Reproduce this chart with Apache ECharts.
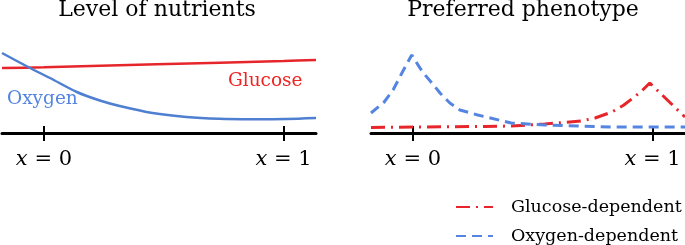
<!DOCTYPE html>
<html>
<head>
<meta charset="utf-8">
<script src="https://cdn.jsdelivr.net/npm/echarts@6/dist/echarts.min.js"></script>
<style>
  html, body { margin: 0; padding: 0; background: #fff; }
  #chart { width: 685px; height: 245px; }
</style>
</head>
<body>
<div id="chart"></div>
<script>
// 左图：营养水平
const glucoseLevel = [[-0.175, 65], [0, 65.7], [0.47, 68.7], [1, 72], [1.135, 73]];
const oxygenLevel = [
  [-0.175, 80], [-0.058, 65], [0.025, 55], [0.137, 41], [0.233, 32.5], [0.316, 27],
  [0.453, 20], [0.594, 16], [0.73, 14.2], [0.869, 13.8], [1.01, 14], [1.135, 15]
];
// 右图：偏好表型
const glucoseDep = [
  [-0.175, 5.5], [0, 6], [0.3, 6.5], [0.41, 7], [0.55, 9], [0.7, 12], [0.76, 15],
  [0.83, 21], [0.88, 28], [0.95, 41], [0.988, 50], [1.07, 31], [1.1, 24], [1.135, 16]
];
const oxygenDep = [
  [-0.175, 20], [-0.12, 31], [-0.083, 43], [-0.046, 60], [-0.005, 78], [0.04, 61],
  [0.079, 50], [0.113, 40], [0.154, 30], [0.196, 23], [0.27, 18], [0.41, 10],
  [0.55, 8], [0.83, 6], [1.135, 6]
];
const tickValues = [0, 1];
const titles = ['Level of nutrients', 'Preferred phenotype'];
const legendNames = ['Glucose-dependent', 'Oxygen-dependent'];

const RED = '#e6262b';
const BLUE = '#4f7fd0';
const LIGHT_BLUE = '#5585e0';
const FONT = 'DejaVu Serif';

const chart = echarts.init(document.getElementById('chart'));

// 每个面板两条x轴：一条画轴线+向下刻度+标签，一条画向上刻度
function makeXAxes(gridIndex) {
  const base = {
    type: 'value', gridIndex, min: -0.175, max: 1.135, position: 'bottom',
    splitLine: { show: false }
  };
  return [
    Object.assign({}, base, {
      axisLine: { show: true, onZero: false, lineStyle: { color: '#000', width: 3 } },
      axisTick: { show: true, customValues: tickValues, length: 8, lineStyle: { color: '#000', width: 2 } },
      axisLabel: {
        show: true, customValues: tickValues, margin: 16,
        fontFamily: FONT, fontSize: 21, color: '#000',
        formatter: v => '{i|x} = ' + Math.round(v),
        rich: { i: { fontStyle: 'italic', fontFamily: FONT, fontSize: 21 } }
      }
    }),
    Object.assign({}, base, {
      axisLine: { show: false, onZero: false },
      axisTick: { show: true, inside: true, customValues: tickValues, length: 7, lineStyle: { color: '#000', width: 2 } },
      axisLabel: { show: false }
    })
  ];
}

const option = {
  animation: false,
  backgroundColor: '#fff',
  title: [
    { text: titles[0], left: 157, top: -1, textAlign: 'center', padding: 0,
      textStyle: { fontFamily: FONT, fontSize: 22, fontWeight: 'normal', color: '#000' } },
    { text: titles[1], left: 523, top: -1, textAlign: 'center', padding: 0,
      textStyle: { fontFamily: FONT, fontSize: 22, fontWeight: 'normal', color: '#000' } }
  ],
  grid: [
    { left: 2, width: 314, top: 33, height: 100 },
    { left: 371, width: 314, top: 33, height: 100 }
  ],
  xAxis: [...makeXAxes(0), ...makeXAxes(1)],
  yAxis: [
    { type: 'value', gridIndex: 0, min: 0, max: 100, show: false },
    { type: 'value', gridIndex: 1, min: 0, max: 100, show: false }
  ],
  legend: {
    data: legendNames,
    orient: 'vertical',
    left: 455,
    top: 198,
    height: 60,
    padding: 0,
    itemWidth: 37,
    itemHeight: 14,
    itemGap: 11,
    itemStyle: { opacity: 0 },
    textStyle: { fontFamily: FONT, fontSize: 17.5, color: '#000', padding: [0, 0, 0, 13] }
  },
  graphic: [
    { type: 'text', left: 7, top: 90, style: { text: 'Oxygen', fill: LIGHT_BLUE, font: '18.5px "DejaVu Serif"' } },
    { type: 'text', left: 228, top: 72, style: { text: 'Glucose', fill: '#f02424', font: '18.5px "DejaVu Serif"' } }
  ],
  series: [
    { name: 'Glucose', type: 'line', xAxisIndex: 0, yAxisIndex: 0, data: glucoseLevel,
      smooth: 0.3, symbol: 'none', lineStyle: { color: RED, width: 2.5 } },
    { name: 'Oxygen', type: 'line', xAxisIndex: 0, yAxisIndex: 0, data: oxygenLevel,
      smooth: 0.3, symbol: 'none', lineStyle: { color: BLUE, width: 2.5 } },
    { name: legendNames[0], type: 'line', xAxisIndex: 2, yAxisIndex: 1, data: glucoseDep,
      symbol: 'none', itemStyle: { color: RED },
      lineStyle: { color: RED, width: 3, type: [14, 6, 2, 6] } },
    { name: legendNames[1], type: 'line', xAxisIndex: 2, yAxisIndex: 1, data: oxygenDep,
      symbol: 'none', itemStyle: { color: LIGHT_BLUE },
      lineStyle: { color: LIGHT_BLUE, width: 3, type: [10, 6] } }
  ]
};

chart.setOption(option);
</script>
</body>
</html>
